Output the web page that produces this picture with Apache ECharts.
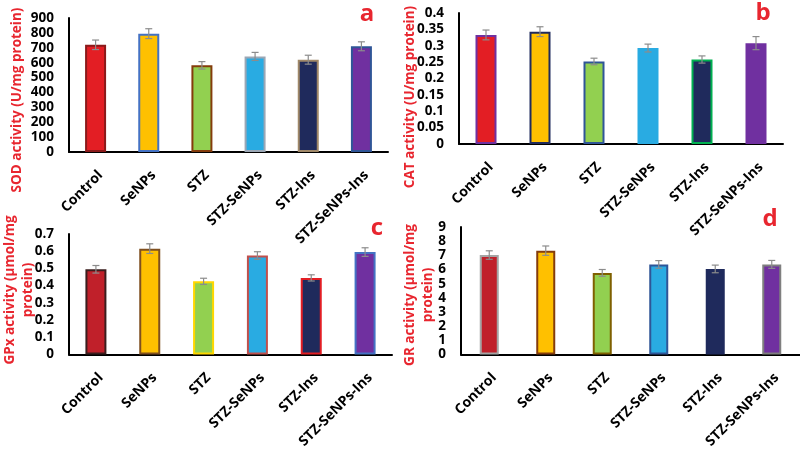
<!DOCTYPE html>
<html>
<head>
<meta charset="utf-8">
<script src="https://cdn.jsdelivr.net/npm/echarts@6/dist/echarts.min.js"></script>
<style>html,body{margin:0;padding:0;background:#fff}#c{width:800px;height:451px}</style>
</head>
<body>
<div id="c"></div>
<script>
var categories = ['Control', 'SeNPs', 'STZ', 'STZ-SeNPs', 'STZ-Ins', 'STZ-SeNPs-Ins'];

var sodValues = [720, 795, 582, 642, 620, 710];
var sodErrors = [32, 33, 25, 27, 30, 30];
var sodTicks = [0, 900, 100];

var catValues = [0.333, 0.343, 0.252, 0.293, 0.258, 0.308];
var catErrors = [0.015, 0.015, 0.010, 0.012, 0.011, 0.020];
var catTicks = [0, 0.4, 0.05];

var gpxValues = [0.495, 0.615, 0.425, 0.575, 0.445, 0.595];
var gpxErrors = [0.022, 0.028, 0.018, 0.022, 0.018, 0.025];
var gpxTicks = [0, 0.7, 0.1];

var grValues = [7.02, 7.33, 5.76, 6.36, 6.04, 6.36];
var grErrors = [0.30, 0.33, 0.24, 0.27, 0.27, 0.28];
var grTicks = [0, 9, 1];

var panelNames = ['SOD activity (U/mg protein)', 'CAT activity (U/mg protein)', 'GPx activity (\u00b5mol/mg\nprotein)', 'GR activity (\u00b5mol/mg\nprotein)'];
var panelLetters = ['a', 'b', 'c', 'd'];

// styles
var RED = '#E8262F';
var fillA = ['#E31E24', '#FFC000', '#92D050', '#29ABE2', '#1F2A5C', '#7030A0'];
var borderA = ['#8B1A1A', '#4472C4', '#843C0C', '#9BA7B5', '#A08868', '#2F5597'];
var fillB = ['#E31E24', '#FFC000', '#92D050', '#29ABE2', '#1F2A5C', '#7030A0'];
var borderB = ['#7030A0', '#1F2A5C', '#2F5597', '#29ABE2', '#00B050', '#7030A0'];
var fillC = ['#C0202A', '#FFC000', '#92D050', '#29ABE2', '#1F2A5C', '#7030A0'];
var borderC = ['#3B1E1E', '#7F4F1F', '#FFD700', '#C0504D', '#E31E24', '#4472C4'];
var fillD = ['#C0202A', '#FFC000', '#92D050', '#29ABE2', '#1F2A5C', '#7030A0'];
var borderD = ['#A5A5A5', '#843C0C', '#7F6000', '#2F5597', '#1F2A5C', '#7F7F7F'];

var grids = [
  {left: 69, top: 18, width: 319, height: 134},
  {left: 459, top: 13, width: 324, height: 131},
  {left: 69, top: 234, width: 323, height: 132},
  {left: 461, top: 227, width: 339, height: 132}
];
var barWidths = [21, 21, 21, 19];
var tickSets = [sodTicks, catTicks, gpxTicks, grTicks];
var valueSets = [sodValues, catValues, gpxValues, grValues];
var errorSets = [sodErrors, catErrors, gpxErrors, grErrors];
var fills = [fillA, fillB, fillC, fillD];
var borders = [borderA, borderB, borderC, borderD];

var FONT = '"Open Sans", "Liberation Sans", sans-serif';

var xAxes = [], yAxes = [], series = [];
for (var p = 0; p < 4; p++) {
  xAxes.push({
    type: 'category', gridIndex: p, data: categories,
    axisLine: {lineStyle: {color: '#000', width: 2}},
    axisTick: {show: false},
    axisLabel: {rotate: 45, margin: 16, align: 'right', verticalAlign: 'top', color: '#000', fontWeight: 'bold', fontSize: 14, fontFamily: FONT, interval: 0}
  });
  yAxes.push({
    type: 'value', gridIndex: p, min: tickSets[p][0], max: tickSets[p][1], interval: tickSets[p][2],
    axisLine: {show: true, lineStyle: {color: '#000', width: 2}},
    axisTick: {show: false},
    splitLine: {show: false},
    axisLabel: {margin: 15, color: '#000', fontWeight: 'bold', fontSize: 13.5, fontFamily: FONT}
  });
  (function (p) {
    series.push({
      type: 'bar', xAxisIndex: p, yAxisIndex: p, barWidth: barWidths[p],
      data: valueSets[p].map(function (v, i) {
        return {value: v, itemStyle: {color: fills[p][i], borderColor: borders[p][i], borderWidth: 2}};
      }),
      animation: false
    });
    series.push({
      type: 'custom', xAxisIndex: p, yAxisIndex: p, z: 10,
      data: valueSets[p].map(function (v, i) { return [i, v, errorSets[p][i]]; }),
      renderItem: function (params, api) {
        var i = api.value(0), v = api.value(1), e = api.value(2);
        var hi = api.coord([i, v + e]);
        var lo = api.coord([i, v - e]);
        var hw = 3.5;
        var st = {stroke: '#8C8C8C', lineWidth: 1.2};
        return {type: 'group', children: [
          {type: 'line', shape: {x1: hi[0], y1: hi[1], x2: lo[0], y2: lo[1]}, style: st},
          {type: 'line', shape: {x1: hi[0] - hw, y1: hi[1], x2: hi[0] + hw, y2: hi[1]}, style: st},
          {type: 'line', shape: {x1: lo[0] - hw, y1: lo[1], x2: lo[0] + hw, y2: lo[1]}, style: st}
        ]};
      },
      animation: false
    });
  })(p);
}

var namePos = [[17, 100], [410, 97], [19, 290], [419, 295]];
var letterPos = [[367, 14], [763, 13], [377, 228], [770, 219]];
var graphics = [];
for (var k = 0; k < 4; k++) {
  graphics.push({
    type: 'text', x: namePos[k][0], y: namePos[k][1], rotation: Math.PI / 2,
    style: {text: panelNames[k], fill: RED, font: 'bold 13.5px ' + FONT, align: 'center', verticalAlign: 'middle', lineHeight: 18}
  });
  graphics.push({
    type: 'text', x: letterPos[k][0], y: letterPos[k][1],
    style: {text: panelLetters[k], fill: RED, font: 'bold 24px ' + FONT, align: 'center', verticalAlign: 'middle'}
  });
}

var chart = echarts.init(document.getElementById('c'), null, {renderer: 'canvas'});
chart.setOption({
  animation: false,
  backgroundColor: '#fff',
  grid: grids,
  xAxis: xAxes,
  yAxis: yAxes,
  series: series,
  graphic: graphics
});
</script>
</body>
</html>
